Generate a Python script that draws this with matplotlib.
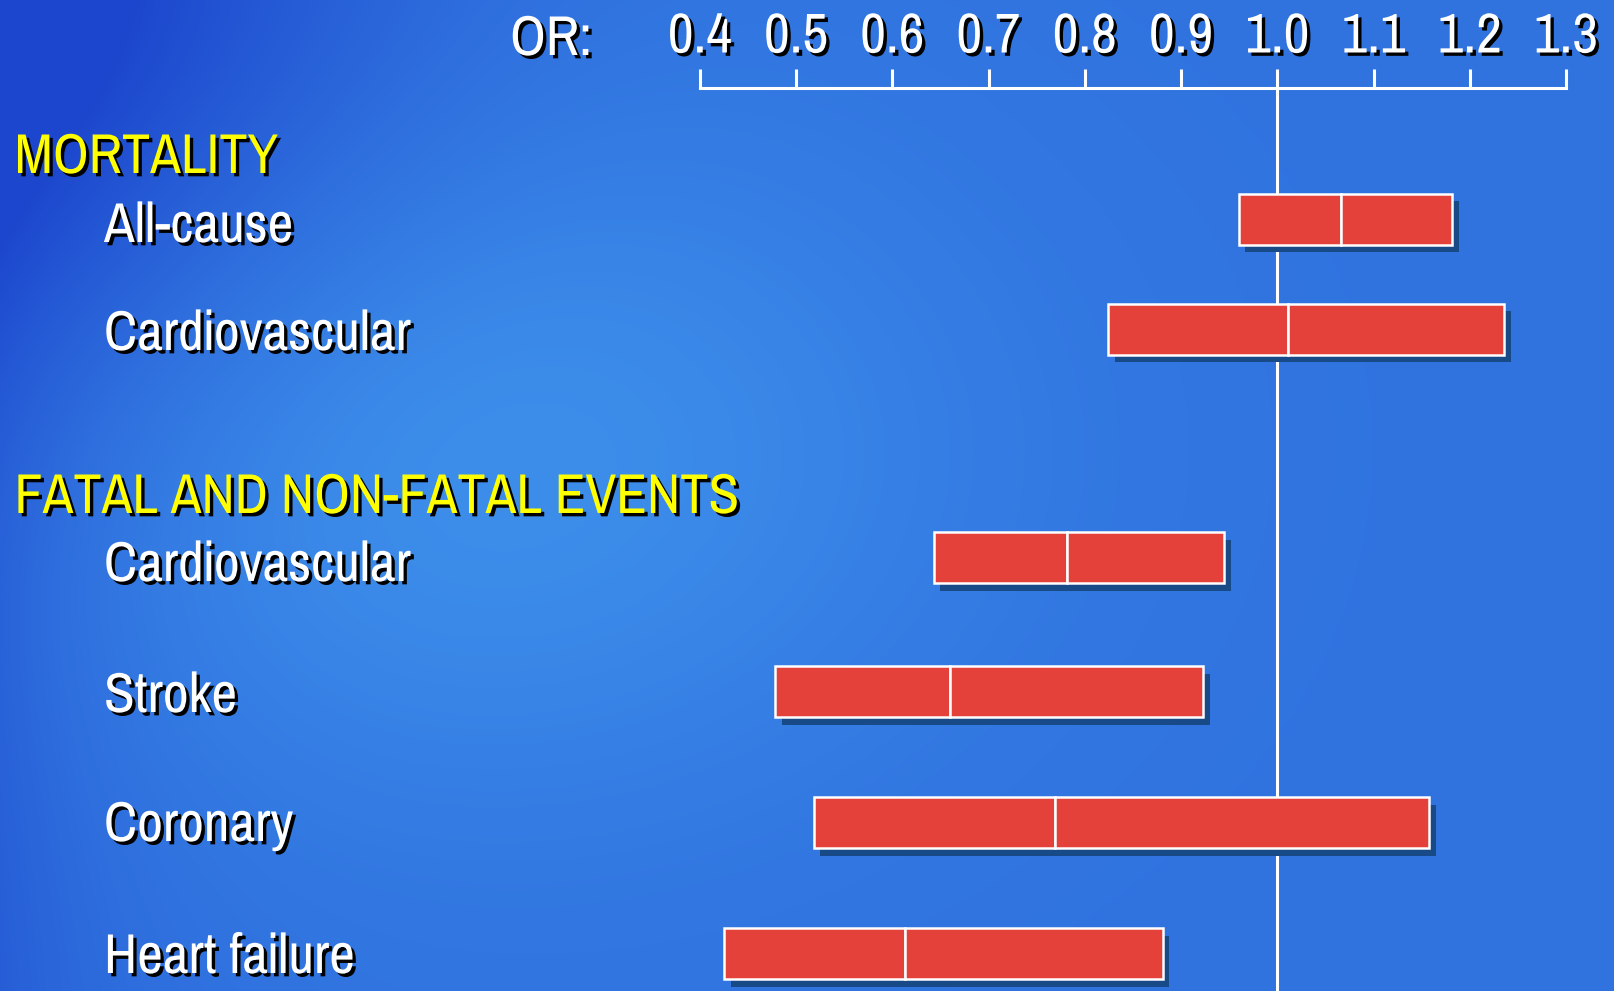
import numpy as np
import matplotlib
matplotlib.use("Agg")
import matplotlib.pyplot as plt
import matplotlib.patheffects as pe
from matplotlib.transforms import blended_transform_factory

# ---- data: odds ratios (lower CI, point estimate, upper CI) ----
outcomes = ["All-cause", "Cardiovascular", "Cardiovascular", "Stroke",
            "Coronary", "Heart failure"]
or_low = [0.96, 0.824, 0.643, 0.478, 0.518, 0.425]
or_point = [1.066, 1.011, 0.781, 0.66, 0.769, 0.613]
or_high = [1.182, 1.236, 0.945, 0.923, 1.158, 0.881]
groups = ["MORTALITY", "FATAL AND NON-FATAL EVENTS"]
tick_values = [0.4, 0.5, 0.6, 0.7, 0.8, 0.9, 1.0, 1.1, 1.2, 1.3]
tick_labels = ["0.4", "0.5", "0.6", "0.7", "0.8", "0.9", "1.0", "1.1", "1.2", "1.3"]

# ---- layout (figure pixel rows, top = 0) ----
W, H, DPI = 1615, 991, 100
row_y = [219, 329, 558, 692, 823, 954]
label_base = [242, 350, 581, 712, 841, 973]
group_base = [173, 513]
axis_row = 87.5
bar_h = 51
px_per_unit = 962.2
x0_px = 700  # pixel column of OR = 0.4

FONT = ["Pragati Narrow", "Roboto Condensed", "Liberation Sans", "DejaVu Sans"]
FS = 44
text_shadow = [pe.withSimplePatchShadow(offset=(2.4, -2.4),
                                        shadow_rgbFace="black", alpha=1.0)]

fig = plt.figure(figsize=(W / DPI, H / DPI), dpi=DPI)

# ---- backdrop: blue slide gradient ----
yy, xx = np.mgrid[0:H, 0:W].astype(float)
blob = np.exp(-(((xx - 450) / 500) ** 2 + ((yy - 450) / 350) ** 2))
corner = np.exp(-((xx ** 2 + yy ** 2) / 400 ** 2))
edge = np.exp(-xx / 120)
w = np.clip(0.6 + 0.4 * blob - 0.6 * corner - 0.3 * edge, 0, 1)[..., None]
dark = np.array([28, 70, 205]) / 255
light = np.array([62, 145, 236]) / 255
bg = dark + (light - dark) * w
bg_ax = fig.add_axes([0, 0, 1, 1], zorder=0)
bg_ax.imshow(bg, aspect="auto", interpolation="bilinear")
bg_ax.axis("off")

# ---- chart axes: top edge sits on the OR scale line ----
ax = fig.add_axes([0, 0, 1, (H - axis_row) / H], zorder=1)
ax.patch.set_alpha(0)
x_left = 0.4 - x0_px / px_per_unit
x_right = x_left + W / px_per_unit
ax.set_xlim(x_left, x_right)
ax.set_ylim(H, axis_row)

for side in ["left", "right", "bottom"]:
    ax.spines[side].set_visible(False)
ax.spines["top"].set_bounds(0.4, 1.3)
ax.spines["top"].set_color("white")
ax.spines["top"].set_linewidth(2.2)
ax.spines["top"].set_capstyle("projecting")
ax.set_yticks([])
ax.xaxis.tick_top()
ax.set_xticks(tick_values)
ax.set_xticklabels(tick_labels)
ax.tick_params(axis="x", direction="out", length=14, width=2.2,
               colors="white", pad=4)
for lab in ax.get_xticklabels():
    lab.set_fontfamily(FONT)
    lab.set_fontsize(FS)
    lab.set_path_effects(text_shadow)

# reference line at OR = 1
ax.axvline(1.0, color="white", lw=2.2, zorder=1)

# ---- bars: lower CI -> estimate, estimate -> upper CI ----
bar_shadow = [pe.SimplePatchShadow(offset=(4.7, -5.4),
                                   shadow_rgbFace="#184a88", alpha=1.0),
              pe.Normal()]
low = np.array(or_low)
mid = np.array(or_point)
high = np.array(or_high)
for lefts, widths in [(low, mid - low), (mid, high - mid)]:
    bars = ax.barh(row_y, widths, left=lefts, height=bar_h,
                   color="#e4413a", edgecolor="white", linewidth=1.8,
                   zorder=3)
    for b in bars:
        b.set_path_effects(bar_shadow)

# ---- text labels ----
tr = blended_transform_factory(fig.transFigure, ax.transData)
fig.text(510 / W, 1 - 55 / H, "OR:", color="white", fontsize=FS,
         family=FONT, va="baseline", ha="left", path_effects=text_shadow,
         zorder=5)
for name, yb in zip(groups, group_base):
    ax.text(14.5 / W, yb, name, transform=tr, color="#ffff00", fontsize=FS,
            family=FONT, va="baseline", ha="left",
            path_effects=text_shadow, zorder=5, clip_on=False)
for name, yb in zip(outcomes, label_base):
    ax.text(104 / W, yb, name, transform=tr, color="white", fontsize=FS,
            family=FONT, va="baseline", ha="left",
            path_effects=text_shadow, zorder=5, clip_on=False)

fig.savefig("out.png", dpi=DPI)
